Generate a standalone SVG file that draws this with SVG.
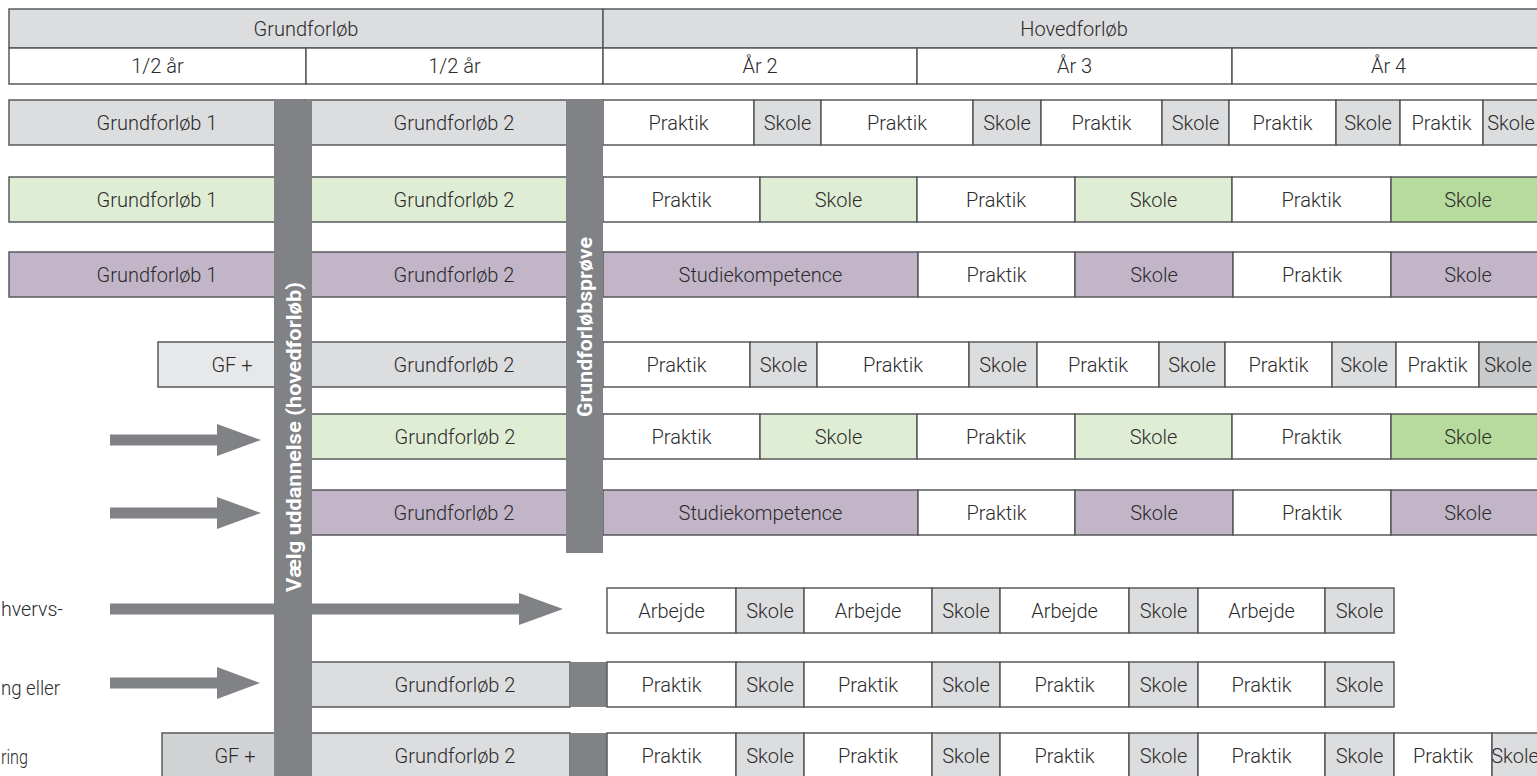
<svg xmlns="http://www.w3.org/2000/svg" width="1537" height="776" viewBox="0 0 1537 776">
<style>
rect.c{stroke:#58595b;stroke-width:1.5}
.g{fill:#dcdddf}.w{fill:#ffffff}.lg{fill:#e0edd5}.dg{fill:#b7db9d}.p{fill:#c2b5c8}.l{fill:#e7e8e9}.m{fill:#c9cacc}.n{fill:#d1d2d4}
.bar{fill:#808285}
text{font-family:Roboto,"Liberation Sans",sans-serif;font-size:20px;font-weight:300;fill:#2b2b2b;text-anchor:middle}
text.v{fill:#ffffff;font-weight:700;font-size:21px}
text.lft{text-anchor:start}
</style>
<rect width="1537" height="776" fill="#ffffff"/>
<g id="header">
<rect class="c g" x="9" y="9" width="594" height="39"/><text x="306" y="35.5">Grundforløb</text>
<rect class="c g" x="603" y="9" width="942" height="39"/><text x="1074" y="35.5">Hovedforløb</text>
<rect class="c w" x="9" y="48" width="297" height="36"/><text x="157.5" y="73">1/2 år</text>
<rect class="c w" x="306" y="48" width="297" height="36"/><text x="454.5" y="73">1/2 år</text>
<rect class="c w" x="603" y="48" width="314" height="36"/><text x="760" y="73">År 2</text>
<rect class="c w" x="917" y="48" width="315" height="36"/><text x="1074.5" y="73">År 3</text>
<rect class="c w" x="1232" y="48" width="313" height="36"/><text x="1388.5" y="73">År 4</text>
</g>
<g id="row1">
<rect class="c g" x="9" y="100" width="296" height="45"/><text x="157" y="129.5">Grundforløb 1</text>
<rect class="c g" x="305" y="100" width="298" height="45"/><text x="454" y="129.5">Grundforløb 2</text>
<rect class="c w" x="603" y="100" width="151" height="45"/><text x="678.5" y="129.5">Praktik</text>
<rect class="c g" x="754" y="100" width="67" height="45"/><text x="787.5" y="129.5">Skole</text>
<rect class="c w" x="821" y="100" width="152" height="45"/><text x="897" y="129.5">Praktik</text>
<rect class="c g" x="973" y="100" width="68" height="45"/><text x="1007" y="129.5">Skole</text>
<rect class="c w" x="1041" y="100" width="121" height="45"/><text x="1101.5" y="129.5">Praktik</text>
<rect class="c g" x="1162" y="100" width="67" height="45"/><text x="1195.5" y="129.5">Skole</text>
<rect class="c w" x="1229" y="100" width="107" height="45"/><text x="1282.5" y="129.5">Praktik</text>
<rect class="c g" x="1336" y="100" width="64" height="45"/><text x="1368" y="129.5">Skole</text>
<rect class="c w" x="1400" y="100" width="83" height="45"/><text x="1441.5" y="129.5">Praktik</text>
<rect class="c g" x="1483" y="100" width="62" height="45"/><text x="1511" y="129.5">Skole</text>
</g>
<g id="row2">
<rect class="c lg" x="9" y="177" width="296" height="45"/><text x="157" y="206.5">Grundforløb 1</text>
<rect class="c lg" x="305" y="177" width="298" height="45"/><text x="454" y="206.5">Grundforløb 2</text>
<rect class="c w" x="603" y="177" width="157" height="45"/><text x="681.5" y="206.5">Praktik</text>
<rect class="c lg" x="760" y="177" width="157" height="45"/><text x="838.5" y="206.5">Skole</text>
<rect class="c w" x="917" y="177" width="158" height="45"/><text x="996" y="206.5">Praktik</text>
<rect class="c lg" x="1075" y="177" width="157" height="45"/><text x="1153.5" y="206.5">Skole</text>
<rect class="c w" x="1232" y="177" width="159" height="45"/><text x="1311.5" y="206.5">Praktik</text>
<rect class="c dg" x="1391" y="177" width="154" height="45"/><text x="1468" y="206.5">Skole</text>
</g>
<g id="row3">
<rect class="c p" x="9" y="252" width="296" height="45"/><text x="157" y="281.5">Grundforløb 1</text>
<rect class="c p" x="305" y="252" width="298" height="45"/><text x="454" y="281.5">Grundforløb 2</text>
<rect class="c p" x="603" y="252" width="315" height="45"/><text x="760.5" y="281.5">Studiekompetence</text>
<rect class="c w" x="918" y="252" width="157" height="45"/><text x="996.5" y="281.5">Praktik</text>
<rect class="c p" x="1075" y="252" width="158" height="45"/><text x="1154" y="281.5">Skole</text>
<rect class="c w" x="1233" y="252" width="158" height="45"/><text x="1312" y="281.5">Praktik</text>
<rect class="c p" x="1391" y="252" width="154" height="45"/><text x="1468" y="281.5">Skole</text>
</g>
<g id="row4">
<rect class="c l" x="158" y="342" width="147" height="45"/><text x="232" y="371.5">GF +</text>
<rect class="c g" x="305" y="342" width="298" height="45"/><text x="454" y="371.5">Grundforløb 2</text>
<rect class="c w" x="603" y="342" width="147" height="45"/><text x="676.5" y="371.5">Praktik</text>
<rect class="c g" x="750" y="342" width="67" height="45"/><text x="783.5" y="371.5">Skole</text>
<rect class="c w" x="817" y="342" width="152" height="45"/><text x="893" y="371.5">Praktik</text>
<rect class="c g" x="969" y="342" width="68" height="45"/><text x="1003" y="371.5">Skole</text>
<rect class="c w" x="1037" y="342" width="122" height="45"/><text x="1098" y="371.5">Praktik</text>
<rect class="c g" x="1159" y="342" width="66" height="45"/><text x="1192" y="371.5">Skole</text>
<rect class="c w" x="1225" y="342" width="107" height="45"/><text x="1278.5" y="371.5">Praktik</text>
<rect class="c g" x="1332" y="342" width="64" height="45"/><text x="1364" y="371.5">Skole</text>
<rect class="c w" x="1396" y="342" width="83" height="45"/><text x="1437.5" y="371.5">Praktik</text>
<rect class="c m" x="1479" y="342" width="66" height="45"/><text x="1508" y="371.5">Skole</text>
</g>
<g id="row5">
<rect class="c lg" x="305" y="414" width="298" height="45"/><text x="455" y="443.5">Grundforløb 2</text>
<rect class="c w" x="603" y="414" width="157" height="45"/><text x="681.5" y="443.5">Praktik</text>
<rect class="c lg" x="760" y="414" width="157" height="45"/><text x="838.5" y="443.5">Skole</text>
<rect class="c w" x="917" y="414" width="158" height="45"/><text x="996" y="443.5">Praktik</text>
<rect class="c lg" x="1075" y="414" width="157" height="45"/><text x="1153.5" y="443.5">Skole</text>
<rect class="c w" x="1232" y="414" width="159" height="45"/><text x="1311.5" y="443.5">Praktik</text>
<rect class="c dg" x="1391" y="414" width="154" height="45"/><text x="1468" y="443.5">Skole</text>
</g>
<g id="row6">
<rect class="c p" x="305" y="490" width="298" height="45"/><text x="454" y="519.5">Grundforløb 2</text>
<rect class="c p" x="603" y="490" width="315" height="45"/><text x="760.5" y="519.5">Studiekompetence</text>
<rect class="c w" x="918" y="490" width="157" height="45"/><text x="996.5" y="519.5">Praktik</text>
<rect class="c p" x="1075" y="490" width="158" height="45"/><text x="1154" y="519.5">Skole</text>
<rect class="c w" x="1233" y="490" width="158" height="45"/><text x="1312" y="519.5">Praktik</text>
<rect class="c p" x="1391" y="490" width="154" height="45"/><text x="1468" y="519.5">Skole</text>
</g>
<g id="row7">
<rect class="c w" x="607" y="588" width="129" height="45"/><text x="671.5" y="617.5">Arbejde</text>
<rect class="c g" x="736" y="588" width="68" height="45"/><text x="770" y="617.5">Skole</text>
<rect class="c w" x="804" y="588" width="128" height="45"/><text x="868" y="617.5">Arbejde</text>
<rect class="c g" x="932" y="588" width="68" height="45"/><text x="966" y="617.5">Skole</text>
<rect class="c w" x="1000" y="588" width="129" height="45"/><text x="1064.5" y="617.5">Arbejde</text>
<rect class="c g" x="1129" y="588" width="69" height="45"/><text x="1163.5" y="617.5">Skole</text>
<rect class="c w" x="1198" y="588" width="127" height="45"/><text x="1261.5" y="617.5">Arbejde</text>
<rect class="c g" x="1325" y="588" width="69" height="45"/><text x="1359.5" y="617.5">Skole</text>
</g>
<g id="row8">
<rect class="c g" x="305" y="662" width="265" height="45"/><text x="455" y="691.5">Grundforløb 2</text>
<rect class="bar" x="570" y="662" width="37" height="45"/>
<rect class="c w" x="607" y="662" width="129" height="45"/><text x="671.5" y="691.5">Praktik</text>
<rect class="c g" x="736" y="662" width="68" height="45"/><text x="770" y="691.5">Skole</text>
<rect class="c w" x="804" y="662" width="128" height="45"/><text x="868" y="691.5">Praktik</text>
<rect class="c g" x="932" y="662" width="68" height="45"/><text x="966" y="691.5">Skole</text>
<rect class="c w" x="1000" y="662" width="129" height="45"/><text x="1064.5" y="691.5">Praktik</text>
<rect class="c g" x="1129" y="662" width="69" height="45"/><text x="1163.5" y="691.5">Skole</text>
<rect class="c w" x="1198" y="662" width="127" height="45"/><text x="1261.5" y="691.5">Praktik</text>
<rect class="c g" x="1325" y="662" width="69" height="45"/><text x="1359.5" y="691.5">Skole</text>
</g>
<g id="row9">
<rect class="c n" x="162" y="733" width="143" height="50"/><text x="235" y="762.5">GF +</text>
<rect class="c g" x="305" y="733" width="265" height="50"/><text x="455" y="762.5">Grundforløb 2</text>
<rect class="bar" x="570" y="733" width="37" height="50"/>
<rect class="c w" x="607" y="733" width="129" height="50"/><text x="671.5" y="762.5">Praktik</text>
<rect class="c g" x="736" y="733" width="68" height="50"/><text x="770" y="762.5">Skole</text>
<rect class="c w" x="804" y="733" width="128" height="50"/><text x="868" y="762.5">Praktik</text>
<rect class="c g" x="932" y="733" width="68" height="50"/><text x="966" y="762.5">Skole</text>
<rect class="c w" x="1000" y="733" width="129" height="50"/><text x="1064.5" y="762.5">Praktik</text>
<rect class="c g" x="1129" y="733" width="69" height="50"/><text x="1163.5" y="762.5">Skole</text>
<rect class="c w" x="1198" y="733" width="127" height="50"/><text x="1261.5" y="762.5">Praktik</text>
<rect class="c g" x="1325" y="733" width="69" height="50"/><text x="1359.5" y="762.5">Skole</text>
<rect class="c w" x="1394" y="733" width="98" height="50"/><text x="1443" y="762.5">Praktik</text>
<rect class="c g" x="1492" y="733" width="60" height="50"/><text x="1515" y="762.5">Skole</text>
</g>
<g id="side-labels">
<text class="lft" x="1" y="616" textLength="62" lengthAdjust="spacingAndGlyphs">hvervs-</text>
<text class="lft" x="1" y="695" textLength="59" lengthAdjust="spacingAndGlyphs">ng eller</text>
<text class="lft" x="1" y="764" textLength="27" lengthAdjust="spacingAndGlyphs">ring</text>
</g>
<g id="connectors" fill="#808285">
<rect x="110" y="434.5" width="108" height="11"/><polygon points="217,424 261,440 217,456"/>
<rect x="110" y="507.5" width="108" height="11"/><polygon points="217,497 261,513 217,529"/>
<rect x="110" y="603.5" width="410" height="11"/><polygon points="519,593 563,609 519,625"/>
<rect x="110" y="677.5" width="108" height="11"/><polygon points="217,667 260,683 217,699"/>
</g>
<g id="bar-vaelg">
<rect class="bar" x="274" y="100" width="38" height="676"/>
<text class="v" transform="translate(300.5,437) rotate(-90)" textLength="310" lengthAdjust="spacingAndGlyphs">Vælg uddannelse (hovedforløb)</text>
</g>
<g id="bar-proeve">
<rect class="bar" x="566" y="100" width="37" height="453"/>
<text class="v" transform="translate(592,327) rotate(-90)" textLength="180" lengthAdjust="spacingAndGlyphs">Grundforløbsprøve</text>
</g>
</svg>
